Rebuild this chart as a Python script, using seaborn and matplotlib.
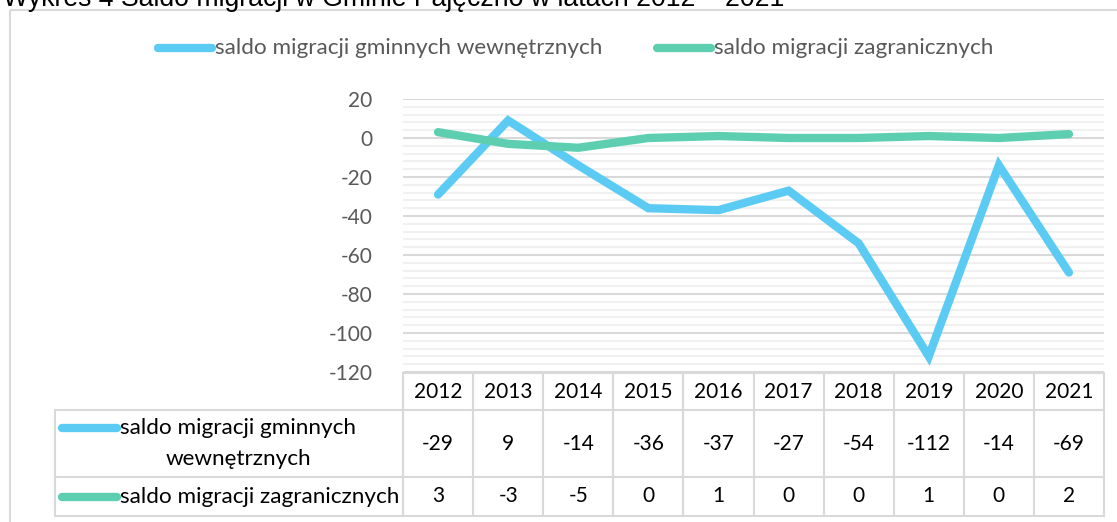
import matplotlib
matplotlib.use("Agg")
import matplotlib.pyplot as plt
from matplotlib.lines import Line2D
from matplotlib.patches import Rectangle
from matplotlib.transforms import Affine2D, blended_transform_factory
import pandas as pd
import seaborn as sns

# chart data
years = [2012, 2013, 2014, 2015, 2016, 2017, 2018, 2019, 2020, 2021]
internal = [-29, 9, -14, -36, -37, -27, -54, -112, -14, -69]
foreign = [3, -3, -5, 0, 1, 0, 0, 1, 0, 2]
name_internal = "saldo migracji gminnych wewnętrznych"
name_foreign = "saldo migracji zagranicznych"
title = "Wykres 4 Saldo migracji w Gminie Pajęczno w latach 2012 – 2021"

BLUE = "#5ccbf4"
GREEN = "#5dcfb0"
GRID = "#d9d9d9"
MINOR = "#f0f0f0"
GREY_TXT = "#595959"
NUM_FS = 15
LAB_FS = 16.2

sns.set_theme(style="white")
plt.rcParams["font.family"] = ["Lato", "DejaVu Sans"]
plt.rcParams["axes.unicode_minus"] = False

W, H = 1117, 522
fig = plt.figure(figsize=(W / 100, H / 100), dpi=100)
# pixel coordinates measured from the top-left corner
pix = Affine2D().scale(1 / W, -1 / H).translate(0, 1) + fig.transFigure

ax = fig.add_axes([403 / W, 1 - 372 / H, (1104 - 403) / W, (372 - 99) / H])

df = pd.DataFrame({
    "idx": list(range(len(years))) * 2,
    "value": internal + foreign,
    "series": [name_internal] * len(years) + [name_foreign] * len(years),
})
sns.lineplot(data=df, x="idx", y="value", hue="series",
             palette={name_internal: BLUE, name_foreign: GREEN},
             linewidth=6, legend=False, ax=ax, zorder=3)
for ln in ax.lines:
    ln.set_solid_capstyle("round")
    ln.set_solid_joinstyle("miter")

ax.set_xlim(-0.5, len(years) - 0.5)
ax.set_ylim(-120, 20)
ax.set_yticks(range(-120, 21, 20))
ax.set_yticks(range(-120, 21, 4), minor=True)
ax.grid(axis="y", which="major", color=GRID, linewidth=1.5, zorder=1)
ax.grid(axis="y", which="minor", color=MINOR, linewidth=1.5, zorder=0)
ax.set_xticks([])
ax.set_xlabel("")
ax.set_ylabel("")
for s in ax.spines.values():
    s.set_visible(False)
ax.tick_params(axis="y", which="both", length=0, pad=22, labelsize=NUM_FS, labelcolor=GREY_TXT)

# outer chart border (right and bottom fall outside the image)
fig.patches.append(Rectangle((10, 10), 1200, 600, transform=pix, fill=False,
                             edgecolor=GRID, linewidth=1.5))

# title, partly cut at the top as in the source
fig.text(3, 6, title, transform=pix, fontsize=19.2, family="Liberation Sans",
         color="black", va="baseline", ha="left")

# top legend
for x0, x1, col, lab in [(158, 212, BLUE, name_internal), (657, 711, GREEN, name_foreign)]:
    fig.lines.append(Line2D([x0, x1], [48, 48], transform=pix, color=col, linewidth=6,
                            solid_capstyle="round"))
    fig.text(x1 + 3, 48, lab, transform=pix, fontsize=LAB_FS, color=GREY_TXT,
             va="center", ha="left")

# data table
tbl = blended_transform_factory(ax.transData, pix)
y_head, y_r1, y_r2, y_end = 373, 410, 477, 516
lc = dict(color=GRID, linewidth=1.5)
n = len(years)
fig.lines.append(Line2D([-0.5, n - 0.5], [y_head, y_head], transform=tbl, **lc))
for yy in (y_r1, y_r2, y_end):
    fig.lines.append(Line2D([55, 1104], [yy, yy], transform=pix, **lc))
fig.lines.append(Line2D([55, 55], [y_r1, y_end], transform=pix, **lc))
for i in range(n + 1):
    fig.lines.append(Line2D([i - 0.5, i - 0.5], [y_head, y_end], transform=tbl, **lc))

for i, yr in enumerate(years):
    fig.text(i, (y_head + y_r1) / 2, str(yr), transform=tbl, fontsize=NUM_FS,
             color="black", ha="center", va="center")
    fig.text(i, (y_r1 + y_r2) / 2, str(internal[i]), transform=tbl, fontsize=NUM_FS,
             color="black", ha="center", va="center")
    fig.text(i, (y_r2 + y_end) / 2, str(foreign[i]), transform=tbl, fontsize=NUM_FS,
             color="black", ha="center", va="center")

# row headers with legend keys
fig.lines.append(Line2D([62, 117], [428, 428], transform=pix, color=BLUE, linewidth=6,
                        solid_capstyle="round"))
fig.text(120, 428, "saldo migracji gminnych", transform=pix, fontsize=LAB_FS,
         color="black", ha="left", va="center")
fig.text(238, 459, "wewnętrznych", transform=pix, fontsize=LAB_FS,
         color="black", ha="center", va="center")
fig.lines.append(Line2D([62, 117], [497, 497], transform=pix, color=GREEN, linewidth=6,
                        solid_capstyle="round"))
fig.text(120, 497, name_foreign, transform=pix, fontsize=LAB_FS,
         color="black", ha="left", va="center")

fig.savefig("out.png", dpi=100)
